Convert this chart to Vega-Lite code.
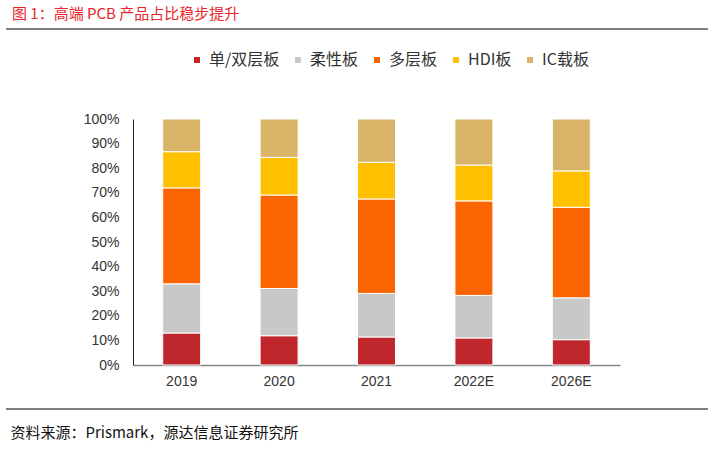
{
  "$schema": "https://vega.github.io/schema/vega-lite/v6.json",
  "autosize": {"type": "none"},
  "padding": {"left": 133, "top": 119, "right": 106, "bottom": 89},
  "width": 487,
  "height": 246,
  "background": "white",
  "config": {
    "view": {"stroke": null},
    "font": "Liberation Sans, Noto Sans CJK SC",
    "legend": {"padding": 0}
  },
  "title": {
    "text": "图 1：高端 PCB 产品占比稳步提升",
    "anchor": "start",
    "frame": "group",
    "dx": -121,
    "offset": 6,
    "fontSize": 15,
    "fontWeight": "normal",
    "color": "#E8262B",
    "font": "Noto Sans CJK SC"
  },
  "layer": [
    {
      "data": {
        "values": [
          {"year": "2019", "type": "单/双层板", "k": 0, "v": 13.0},
          {"year": "2019", "type": "柔性板", "k": 1, "v": 20.0},
          {"year": "2019", "type": "多层板", "k": 2, "v": 39.0},
          {"year": "2019", "type": "HDI板", "k": 3, "v": 14.7},
          {"year": "2019", "type": "IC载板", "k": 4, "v": 13.3},
          {"year": "2020", "type": "单/双层板", "k": 0, "v": 11.9},
          {"year": "2020", "type": "柔性板", "k": 1, "v": 19.2},
          {"year": "2020", "type": "多层板", "k": 2, "v": 38.0},
          {"year": "2020", "type": "HDI板", "k": 3, "v": 15.3},
          {"year": "2020", "type": "IC载板", "k": 4, "v": 15.6},
          {"year": "2021", "type": "单/双层板", "k": 0, "v": 11.4},
          {"year": "2021", "type": "柔性板", "k": 1, "v": 17.7},
          {"year": "2021", "type": "多层板", "k": 2, "v": 38.4},
          {"year": "2021", "type": "HDI板", "k": 3, "v": 14.9},
          {"year": "2021", "type": "IC载板", "k": 4, "v": 17.6},
          {"year": "2022E", "type": "单/双层板", "k": 0, "v": 11.0},
          {"year": "2022E", "type": "柔性板", "k": 1, "v": 17.3},
          {"year": "2022E", "type": "多层板", "k": 2, "v": 38.4},
          {"year": "2022E", "type": "HDI板", "k": 3, "v": 14.6},
          {"year": "2022E", "type": "IC载板", "k": 4, "v": 18.7},
          {"year": "2026E", "type": "单/双层板", "k": 0, "v": 10.3},
          {"year": "2026E", "type": "柔性板", "k": 1, "v": 17.0},
          {"year": "2026E", "type": "多层板", "k": 2, "v": 36.8},
          {"year": "2026E", "type": "HDI板", "k": 3, "v": 14.8},
          {"year": "2026E", "type": "IC载板", "k": 4, "v": 21.1}
        ]
      },
      "mark": {"type": "bar", "stroke": "white", "strokeWidth": 1},
      "encoding": {
        "x": {
          "field": "year",
          "type": "nominal",
          "sort": null,
          "scale": {"paddingInner": 0.61, "paddingOuter": 0.305},
          "axis": {
            "labelAngle": 0,
            "labelFontSize": 14,
            "labelColor": "#333333",
            "labelPadding": 9,
            "domainColor": "#888888",
            "domainWidth": 1.5,
            "ticks": false,
            "title": "资料来源：Prismark，源达信息证券研究所",
            "titleFont": "Noto Sans CJK SC",
            "titleFontSize": 15,
            "titleFontWeight": "normal",
            "titleColor": "#111111",
            "titleAnchor": "start",
            "titleAlign": "left",
            "titleBaseline": "middle",
            "titleX": -123,
            "titleY": 67
          }
        },
        "y": {
          "field": "v",
          "type": "quantitative",
          "stack": "zero",
          "scale": {"domain": [0, 100], "nice": false},
          "axis": {
            "values": [0, 10, 20, 30, 40, 50, 60, 70, 80, 90, 100],
            "labelExpr": "datum.value + '%'",
            "labelFontSize": 14,
            "labelColor": "#333333",
            "labelPadding": 14,
            "grid": false,
            "ticks": false,
            "domainColor": "#222222",
            "domainWidth": 1,
            "title": null
          }
        },
        "order": {"field": "k", "type": "quantitative", "sort": "ascending"},
        "color": {
          "field": "type",
          "type": "nominal",
          "sort": null,
          "scale": {
            "domain": ["单/双层板", "柔性板", "多层板", "HDI板", "IC载板"],
            "range": ["#C0272D", "#C8C8C8", "#FA6500", "#FFC000", "#D9B468"]
          },
          "legend": {
            "orient": "none",
            "legendX": 56,
            "legendY": -67,
            "direction": "horizontal",
            "title": null,
            "symbolType": "square",
            "symbolSize": 36,
            "symbolStrokeWidth": 0,
            "labelFontSize": 16,
            "labelFont": "Noto Sans CJK SC",
            "labelColor": "#333333",
            "labelOffset": 4,
            "columnPadding": 10
          }
        }
      }
    },
    {
      "data": {"values": [{}]},
      "mark": {"type": "rule", "color": "#000000", "strokeWidth": 1.2},
      "encoding": {
        "x": {"value": -127},
        "x2": {"value": 575},
        "y": {"value": -90}
      }
    },
    {
      "data": {"values": [{}]},
      "mark": {"type": "rule", "color": "#000000", "strokeWidth": 1.2},
      "encoding": {
        "x": {"value": -127},
        "x2": {"value": 575},
        "y": {"value": 290}
      }
    }
  ]
}
